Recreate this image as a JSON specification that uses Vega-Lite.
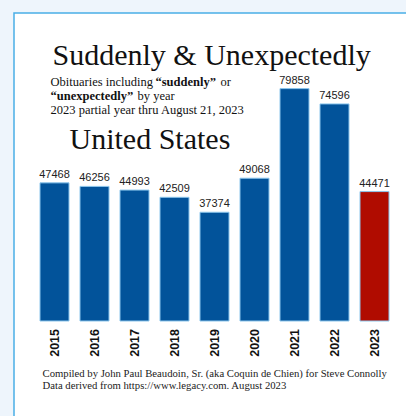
{
  "$schema": "https://vega.github.io/schema/vega-lite/v6.json",
  "width": 401,
  "height": 405,
  "autosize": {"type": "none"},
  "padding": {"left": 14, "top": 13, "right": 0, "bottom": 0},
  "background": "#eef5fc",
  "config": {"view": {"fill": "#ffffff", "stroke": "#4aaee6", "strokeWidth": 1.5}},
  "data": {"values": [
    {"year": "2015", "count": 47468},
    {"year": "2016", "count": 46256},
    {"year": "2017", "count": 44993},
    {"year": "2018", "count": 42509},
    {"year": "2019", "count": 37374},
    {"year": "2020", "count": 49068},
    {"year": "2021", "count": 79858},
    {"year": "2022", "count": 74596},
    {"year": "2023", "count": 44471}
  ]},
  "layer": [
    {
      "mark": {"type": "bar", "stroke": "#8cc6ec", "strokeWidth": 1},
      "encoding": {
        "x": {"field": "year", "type": "nominal", "sort": null, "axis": null,
              "scale": {"type": "band", "paddingInner": 0.275, "paddingOuter": 0.65}},
        "y": {"field": "count", "type": "quantitative", "axis": null,
              "scale": {"domain": [-33333, 105842], "nice": false, "zero": false}},
        "color": {"condition": {"test": "datum.year == '2023'", "value": "#b00c00"}, "value": "#02539a"}
      }
    },
    {
      "mark": {"type": "text", "font": "Liberation Sans", "fontSize": 11, "baseline": "bottom", "dy": -3, "color": "#222222"},
      "encoding": {
        "x": {"field": "year", "type": "nominal", "sort": null},
        "y": {"field": "count", "type": "quantitative"},
        "text": {"field": "count", "type": "nominal"}
      }
    },
    {
      "mark": {"type": "text", "font": "Liberation Sans", "fontSize": 12.5, "fontWeight": "bold", "angle": 270, "align": "right", "baseline": "middle", "color": "#111111"},
      "encoding": {
        "x": {"field": "year", "type": "nominal", "sort": null},
        "y": {"datum": -2749, "type": "quantitative"},
        "text": {"field": "year", "type": "nominal"}
      }
    },
    {
      "data": {"values": [{"t": "Suddenly & Unexpectedly"}]},
      "mark": {"type": "text", "font": "Liberation Serif", "fontSize": 30, "align": "left", "baseline": "alphabetic", "dx": -2, "color": "#111111"},
      "encoding": {"x": {"datum": "2015"}, "y": {"datum": 87973, "type": "quantitative"}, "text": {"field": "t"}}
    },
    {
      "data": {"values": [{"t": "Obituaries including"}]},
      "mark": {"type": "text", "font": "Liberation Serif", "fontSize": 12.5, "align": "left", "baseline": "alphabetic", "dx": -4, "color": "#111111"},
      "encoding": {"x": {"datum": "2015"}, "y": {"datum": 80756, "type": "quantitative"}, "text": {"field": "t"}}
    },
    {
      "data": {"values": [{"t": "“suddenly”"}]},
      "mark": {"type": "text", "font": "Liberation Serif", "fontSize": 12.5, "fontWeight": "bold", "align": "left", "baseline": "alphabetic", "dx": 101, "color": "#111111"},
      "encoding": {"x": {"datum": "2015"}, "y": {"datum": 80756, "type": "quantitative"}, "text": {"field": "t"}}
    },
    {
      "data": {"values": [{"t": "or"}]},
      "mark": {"type": "text", "font": "Liberation Serif", "fontSize": 12.5, "align": "left", "baseline": "alphabetic", "dx": 166, "color": "#111111"},
      "encoding": {"x": {"datum": "2015"}, "y": {"datum": 80756, "type": "quantitative"}, "text": {"field": "t"}}
    },
    {
      "data": {"values": [{"t": "“unexpectedly”"}]},
      "mark": {"type": "text", "font": "Liberation Serif", "fontSize": 12.5, "fontWeight": "bold", "align": "left", "baseline": "alphabetic", "dx": -4, "color": "#111111"},
      "encoding": {"x": {"datum": "2015"}, "y": {"datum": 75945, "type": "quantitative"}, "text": {"field": "t"}}
    },
    {
      "data": {"values": [{"t": "by year"}]},
      "mark": {"type": "text", "font": "Liberation Serif", "fontSize": 12.5, "align": "left", "baseline": "alphabetic", "dx": 83, "color": "#111111"},
      "encoding": {"x": {"datum": "2015"}, "y": {"datum": 75945, "type": "quantitative"}, "text": {"field": "t"}}
    },
    {
      "data": {"values": [{"t": "2023 partial year thru August 21, 2023"}]},
      "mark": {"type": "text", "font": "Liberation Serif", "fontSize": 12.5, "align": "left", "baseline": "alphabetic", "dx": -4, "color": "#111111"},
      "encoding": {"x": {"datum": "2015"}, "y": {"datum": 71134, "type": "quantitative"}, "text": {"field": "t"}}
    },
    {
      "data": {"values": [{"t": "United States"}]},
      "mark": {"type": "text", "font": "Liberation Serif", "fontSize": 30, "align": "left", "baseline": "alphabetic", "dx": 15, "color": "#111111"},
      "encoding": {"x": {"datum": "2015"}, "y": {"datum": 59107, "type": "quantitative"}, "text": {"field": "t"}}
    },
    {
      "data": {"values": [{"t": "Compiled by John Paul Beaudoin, Sr. (aka Coquin de Chien) for Steve Connolly"}]},
      "mark": {"type": "text", "font": "Liberation Serif", "fontSize": 10.7, "align": "left", "baseline": "alphabetic", "dx": -12, "color": "#222222"},
      "encoding": {"x": {"datum": "2015"}, "y": {"datum": -19244, "type": "quantitative"}, "text": {"field": "t"}}
    },
    {
      "data": {"values": [{"t": "Data derived from https://www.legacy.com. August 2023"}]},
      "mark": {"type": "text", "font": "Liberation Serif", "fontSize": 10.7, "align": "left", "baseline": "alphabetic", "dx": -12, "color": "#222222"},
      "encoding": {"x": {"datum": "2015"}, "y": {"datum": -23368, "type": "quantitative"}, "text": {"field": "t"}}
    }
  ]
}
